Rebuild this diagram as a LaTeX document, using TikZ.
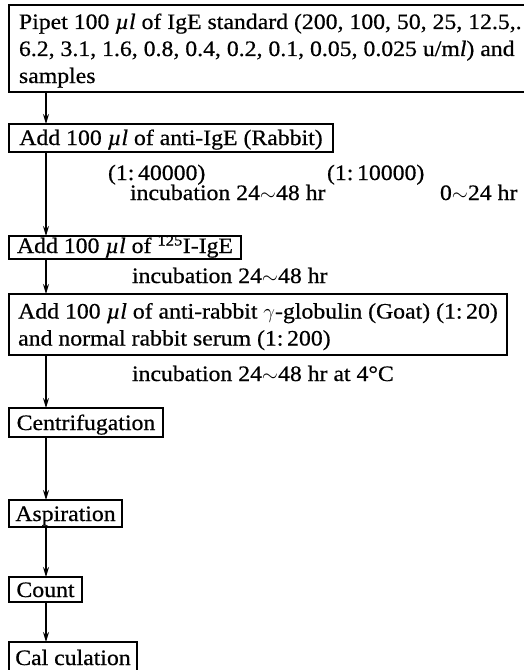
\documentclass[tikz,border=0pt]{standalone}
\usepackage{fontspec}
\usepackage{graphicx}
\setmainfont{Liberation Serif}[FakeStretch=1.08,FakeBold=0.6]
\usetikzlibrary{arrows.meta}
\newcommand\muL{\textit{µl}}
\newcommand\wv{$\sim$}
\newcommand\bst{\rule[-6bp]{0pt}{27bp}}
\begin{document}
\begin{tikzpicture}[x=1bp,y=-1bp,
  font=\fontsize{22bp}{27bp}\selectfont,
  box/.style={draw, line width=2.4bp, anchor=north west, outer sep=0pt, inner ysep=0pt},
  lbl/.style={anchor=base west, inner sep=0pt, outer sep=0pt},
  arr/.style={line width=1.4bp, -{Stealth[length=10bp,width=6bp]}}]
\path[use as bounding box] (0,0) rectangle (524,670);
\clip (0,0) rectangle (524,670);
\node[box, minimum width=509bp, minimum height=87bp, inner xsep=10bp, align=left] (b1) at (9,5)
  {Pipet 100 \muL{} of IgE standard (200, 100, 50, 25, 12.5,.\bst\\
   6.2, 3.1, 1.6, 0.8, 0.4, 0.2, 0.1, 0.05, 0.025 u/m\textit{l}) and\bst\\
   samples\bst};
\node[box, minimum width=324bp, text height=21bp, text depth=7bp, inner xsep=8bp] (b2) at (9,124)
  {Add 100 \muL{} of anti-IgE (Rabbit)};
\node[box, minimum width=231bp, text height=17bp, text depth=6bp, inner xsep=8bp] (b3) at (9,236)
  {Add 100 \muL{} of \textsuperscript{125}I-IgE};
\node[box, minimum width=498bp, minimum height=61bp, inner xsep=8bp, align=left] (b4) at (9,294)
  {Add 100 \muL{} of anti-rabbit $\gamma$-globulin (Goat) (1:\,20)\bst\\
   and normal rabbit serum (1:\,200)\bst};
\node[box, minimum width=154bp, text height=22bp, text depth=7bp, inner xsep=6bp] (b5) at (9,408) {Centrifugation};
\node[box, minimum width=113bp, text height=21bp, text depth=6bp, inner xsep=5bp] (b6) at (9,500) {Aspiration};
\node[box, minimum width=73bp, text height=20bp, text depth=5bp, inner xsep=5bp] (b7) at (9,577) {Count};
\node[box, minimum width=128bp, text height=23bp, text depth=8bp, inner xsep=5bp] (b8) at (9,642) {Cal culation};

\node[lbl] (r1) at (108,180) {(1:\,40000)};
\node[lbl] (r2) at (327,180) {(1:\,10000)};
\node[lbl] (i1) at (130,200) {incubation 24\wv48 hr};
\node[lbl] (t1) at (440,200) {0\wv24 hr};
\node[lbl] (i2) at (132,283) {incubation 24\wv48 hr};
\node[lbl] (i3) at (132,381) {incubation 24\wv48 hr at 4°C};

\coordinate (ax) at (46,0);
\draw[arr] (ax |- b1.south) -- (ax |- b2.north);
\draw[arr] (ax |- b2.south) -- (ax |- b3.north);
\draw[arr] (ax |- b3.south) -- (ax |- b4.north);
\draw[arr] (ax |- b4.south) -- (ax |- b5.north);
\draw[arr] (ax |- b5.south) -- (ax |- b6.north);
\draw[arr] (ax |- b6.south) -- (ax |- b7.north);
\draw[arr] (ax |- b7.south) -- (ax |- b8.north);
\end{tikzpicture}
\end{document}
